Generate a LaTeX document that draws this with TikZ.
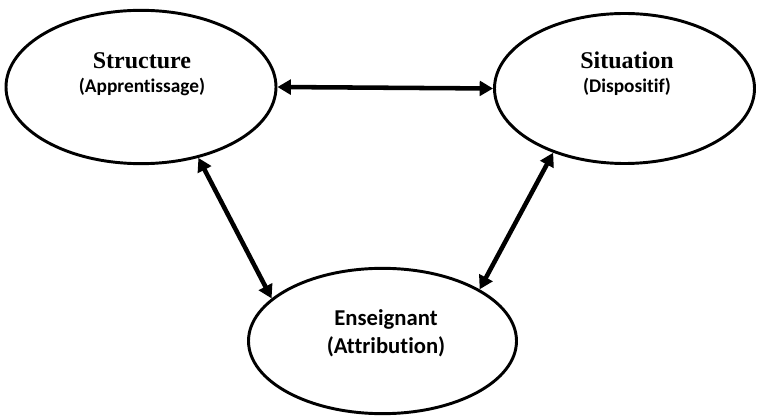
\documentclass[tikz,border=0pt]{standalone}
\usepackage{fontspec}
\setmainfont{Liberation Serif}
\newfontfamily\calib[Ligatures=NoCommon]{Carlito}
\usetikzlibrary{arrows.meta}
\usetikzlibrary{positioning, shapes.geometric}

\begin{document}
\begin{tikzpicture}[x=0.75pt,y=-0.75pt,
    bulle/.style={draw, ellipse, line width=2.2pt, inner sep=0pt},
    titre/.style={align=center, font=\bfseries\fontsize{18}{18}\selectfont},
    grand/.style={font=\calib\bfseries\fontsize{17}{21}\selectfont},
    fleche/.style={line width=3.4pt, {Triangle[length=10pt,width=11pt]}-{Triangle[length=10pt,width=11pt]}}]
                \useasboundingbox (0,0) rectangle (757,416);
                % les trois bulles
                \node[bulle, minimum width=202.5pt, minimum height=115pt] (struct) at (141,87) {};
                \node[bulle, minimum width=195pt, minimum height=112.5pt] (sit) at (624.5,88.5) {};
                \node[bulle, minimum width=201pt, minimum height=109pt] (ens) at (382.5,341) {};
                % les textes
                \node[titre] (structtxt) at (142,74) {Structure\\{\calib\fontsize{14.5}{18}\selectfont (Apprentissage)}};
                \node[titre] (sittxt) at (627,74) {Situation\\{\calib\fontsize{14.5}{18}\selectfont (Dispositif)}};
                \node[grand, align=center] (enstxt) at (386,333) {Enseignant\\(Attribution)};
                % les fleches
                \draw[fleche] (struct.east) -- (sit.west);
                \draw[fleche] (struct.-51) -- (ens.159);
                \draw[fleche] (sit.222) -- (ens.28);
            \end{tikzpicture}
\end{document}
